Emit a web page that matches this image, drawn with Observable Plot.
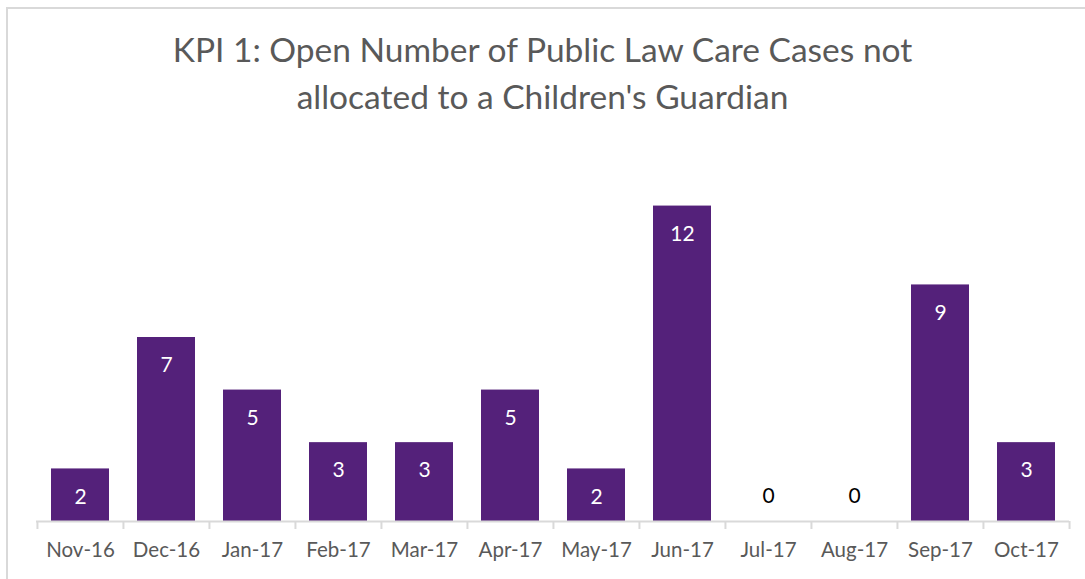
<!DOCTYPE html>
<html>
<head>
<meta charset="utf-8">
<script src="https://cdn.jsdelivr.net/npm/d3@7"></script>
<script src="https://cdn.jsdelivr.net/npm/@observablehq/plot@0.6"></script>
<style>
  html, body { margin: 0; padding: 0; background: #fff; }
  #wrap { position: relative; width: 1085px; height: 579px; overflow: hidden; }
  #frame { position: absolute; left: 6px; top: 7px; width: 1200px; height: 700px;
           border-top: 2px solid #d9d9d9; border-left: 2px solid #d9d9d9; box-sizing: border-box; }
  #title { position: relative; height: 140px; box-sizing: border-box; padding-top: 26px;
           text-align: center; font-family: Lato, sans-serif; font-size: 33.5px; line-height: 47px; color: #595959; }
  #chart { position: relative; }
</style>
</head>
<body>
<div id="wrap">
  <div id="frame"></div>
  <div id="title">KPI 1: Open Number of Public Law Care Cases not<br>allocated to a Children's Guardian</div>
  <div id="chart"></div>
</div>
<script>
const months = ["Nov-16","Dec-16","Jan-17","Feb-17","Mar-17","Apr-17","May-17","Jun-17","Jul-17","Aug-17","Sep-17","Oct-17"];
const cases = [2,7,5,3,3,5,2,12,0,0,9,3];

const data = months.map((m, i) => ({month: m, value: cases[i]}));
const width = 1085, height = 439, marginLeft = 36, marginRight = 16;
const step = (width - marginLeft - marginRight) / months.length;

const plot = Plot.plot({
  width, height,
  marginLeft, marginRight, marginTop: 13, marginBottom: 58,
  style: {fontFamily: "Lato, sans-serif", background: "transparent"},
  x: {domain: months, paddingInner: 0.326, paddingOuter: 0.163, label: null},
  y: {domain: [0, 14], axis: null},
  marks: [
    Plot.barY(data, {x: "month", y: "value", fill: "#54217a"}),
    Plot.ruleY([0], {stroke: "#d9d9d9", strokeWidth: 2}),
    Plot.ruleX(months, {x: d => d, y1: 0, y2: 0, insetBottom: -8, dx: -step / 2, stroke: "#d9d9d9", strokeWidth: 2}),
    Plot.ruleX([months[months.length - 1]], {x: d => d, y1: 0, y2: 0, insetBottom: -8, dx: step / 2, stroke: "#d9d9d9", strokeWidth: 2}),
    Plot.text(data, {x: "month", y: "value", text: d => String(d.value),
      fill: "#ffffff", fontSize: 21, filter: d => d.value > 0, dy: 28}),
    Plot.text(data, {x: "month", y: "value", text: d => String(d.value),
      fill: "#000000", fontSize: 21, filter: d => d.value === 0, dy: -25}),
    Plot.axisX({tickSize: 0, tickPadding: 21, fontSize: 20.5, color: "#595959", label: null})
  ]
});
document.getElementById("chart").appendChild(plot);
</script>
</body>
</html>
